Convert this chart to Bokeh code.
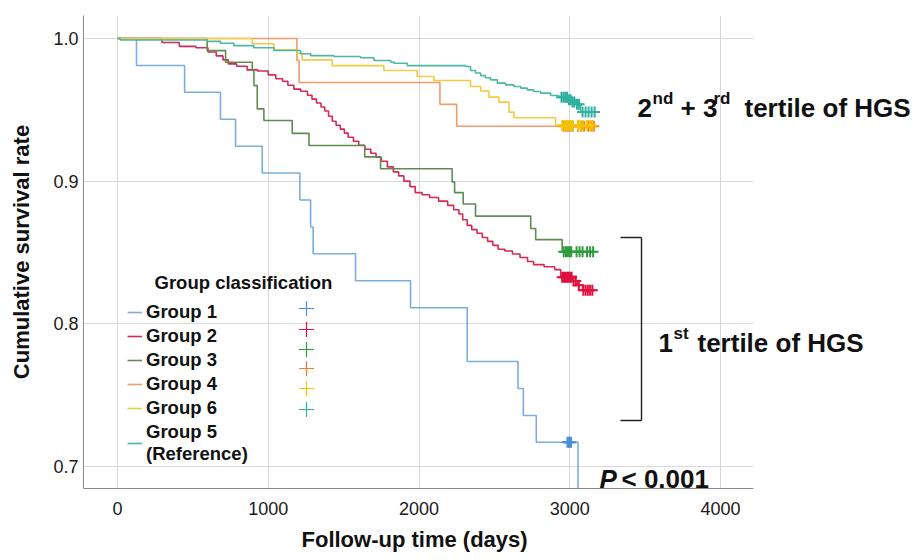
import numpy as np
from bokeh.plotting import figure
from bokeh.models import (Range1d, FixedTicker, NumeralTickFormatter, Legend, LegendItem,
                          Label, Arrow, BoxAnnotation, Title)
from bokeh.embed import file_html
from bokeh.resources import INLINE

# ---------------- data ----------------
x_ticks = [0, 1000, 2000, 3000, 4000]
y_ticks = [0.7, 0.8, 0.9, 1.0]

group_labels = ["Group 1", "Group 2", "Group 3", "Group 4", "Group 6", "Group 5\n(Reference)"]

g1_t = [0, 126, 445, 683, 783, 960, 1210, 1281, 1298, 1579, 1944, 2320, 2657, 2692, 2778, 3055]
g1_s = [1.0, 0.9811, 0.9623, 0.9434, 0.9245, 0.9057, 0.8868, 0.8679, 0.8491, 0.8302, 0.8113,
        0.7736, 0.7547, 0.7358, 0.7170, 0.65]
g1_c = [2985, 2993, 3000, 3008]

g2_t = [0, 296, 410, 520, 600, 655, 700, 735, 790, 860,
        930, 1000, 1050, 1095, 1130, 1170, 1215, 1260, 1290, 1320,
        1350, 1375, 1400, 1425, 1450, 1478, 1505, 1530, 1565, 1600,
        1640, 1680, 1715, 1750, 1790, 1830, 1865, 1900, 1940, 1975,
        2020, 2070, 2130, 2190, 2230, 2265, 2290, 2320, 2350, 2385,
        2420, 2455, 2490, 2525, 2570, 2620, 2670, 2720, 2760, 2830,
        2900, 2940, 3020, 3050, 3085, 3160]
g2_s = [1.0, 0.9972, 0.9945, 0.9935, 0.9905, 0.9878, 0.9850, 0.9822, 0.9806, 0.9780,
        0.9772, 0.9745, 0.9718, 0.9700, 0.9672, 0.9645, 0.9630, 0.9602, 0.9575, 0.9548,
        0.9520, 0.9492, 0.9455, 0.9420, 0.9392, 0.9365, 0.9337, 0.9308, 0.9280, 0.9252,
        0.9224, 0.9196, 0.9168, 0.9140, 0.9100, 0.9065, 0.9037, 0.9000, 0.8962, 0.8920,
        0.8905, 0.8885, 0.8860, 0.8830, 0.8800, 0.8770, 0.8730, 0.8690, 0.8660, 0.8635,
        0.8605, 0.8578, 0.8550, 0.8523, 0.8510, 0.8490, 0.8465, 0.8437, 0.8415, 0.8400,
        0.8380, 0.8327, 0.8300, 0.8270, 0.8235, 0.8235]
g2_c = [2950, 2962, 2972, 2982, 2992, 3002, 3012, 3025, 3040, 3060, 3090, 3105, 3120, 3135, 3150]

g3_t = [0, 595, 717, 894, 905, 927, 971, 1159, 1270, 1640, 1745, 2220, 2236, 2293, 2375,
        2741, 2774, 2950, 3160]
g3_s = [1.0, 0.9915, 0.9834, 0.9776, 0.9670, 0.9507, 0.9425, 0.9335, 0.9250, 0.9170, 0.9087,
        0.8995, 0.8920, 0.8840, 0.8755, 0.8668, 0.8590, 0.8505, 0.8505]
g3_c = [2960, 2975, 2988, 3000, 3010, 3045, 3065, 3085, 3115, 3135, 3155]

g4_t = [0, 1190, 1205, 2139, 2250, 3160]
g4_s = [1.0, 0.9846, 0.9692, 0.9538, 0.9385, 0.9385]
g4_c = [2960, 2975, 2990, 3005, 3020, 3055, 3075, 3095, 3125, 3145, 3160]

g6_t = [0, 894, 1037, 1192, 1225, 1424, 1767, 1988, 2099, 2342, 2409, 2464, 2530, 2597,
        2630, 2906, 3160]
g6_s = [1.0, 0.9963, 0.9920, 0.9897, 0.9850, 0.9810, 0.9776, 0.9734, 0.9706, 0.9664, 0.9632,
        0.9589, 0.9554, 0.9484, 0.9444, 0.9390, 0.9390]
g6_c = [2950, 2965, 2978, 2992, 3005, 3018, 3055, 3070, 3085, 3115, 3135, 3150]

g5_t = [0, 20, 595, 683, 772, 905, 1037, 1214, 1281, 1435,
        1612, 1701, 1812, 1834, 1922, 2309, 2342, 2375, 2409, 2440,
        2475, 2520, 2575, 2630, 2675, 2718, 2760, 2807, 2873, 2928,
        2985, 3010, 3040, 3072, 3172]
g5_s = [1.0, 0.9990, 0.9980, 0.9967, 0.9950, 0.9935, 0.9916, 0.9893, 0.9880, 0.9874,
        0.9865, 0.9846, 0.9835, 0.9827, 0.9810, 0.9804, 0.9776, 0.9758, 0.9740, 0.9725,
        0.9710, 0.9687, 0.9675, 0.9664, 0.9652, 0.9640, 0.9628, 0.9617, 0.9600, 0.9589,
        0.9570, 0.9555, 0.9540, 0.9484, 0.9484]
g5_c = [2945, 2958, 2970, 2982, 2995, 3005, 3018, 3030, 3048, 3062, 3085, 3105, 3125, 3145, 3165]

# ---------------- style / layout ----------------
line_colors = ["#7AAEDC", "#D42A55", "#5E8C50", "#F29A6A", "#F2CB45", "#4CB8A8"]
mark_colors = ["#4A90D9", "#E0103F", "#2E9A3A", "#F08030", "#F5C400", "#30B0A0"]
FONT = "Liberation Sans"

FIG_W, FIG_H = 920, 560
B_LEFT, B_TOP, B_BOTTOM = 83, 15, 72          # frame: x 83..920, y 15..488
XS = 603.0 / 4000.0                            # px per day
YS = 428.0 / 0.3                               # px per survival unit
XR0 = -(117 - B_LEFT) / XS
XR1 = XR0 + (FIG_W - B_LEFT) / XS
YR1 = 1.0 + (38 - B_TOP) / YS
YR0 = YR1 - (FIG_H - B_TOP - B_BOTTOM) / YS
PLOT_RIGHT_PX = 753                            # where grid / x-axis end


def X(px):  # canvas pixel -> data x (annotation placement only)
    return XR0 + (px - B_LEFT) / XS


def Y(py):  # canvas pixel -> data y (annotation placement only)
    return YR1 - (py - B_TOP) / YS


p = figure(width=FIG_W, height=FIG_H, output_backend="svg", toolbar_location=None,
           x_range=Range1d(XR0, XR1), y_range=Range1d(YR0, YR1),
           min_border_left=B_LEFT, min_border_right=0,
           min_border_top=B_TOP, min_border_bottom=B_BOTTOM)
p.outline_line_color = None
p.background_fill_color = "white"
p.border_fill_color = "white"

p.xaxis.ticker = FixedTicker(ticks=x_ticks)
p.yaxis.ticker = FixedTicker(ticks=y_ticks)
p.yaxis.formatter = NumeralTickFormatter(format="0.0")
for ax in (p.xaxis, p.yaxis):
    ax.axis_line_color = "#8a8a8a"
    ax.axis_line_width = 1
    ax.major_tick_line_color = None
    ax.minor_tick_line_color = None
    ax.major_tick_out = 0
    ax.major_tick_in = 0
    ax.minor_tick_out = 0
    ax.minor_tick_in = 0
    ax.major_label_text_font = FONT
    ax.major_label_text_font_size = "18px"
    ax.major_label_text_color = "#1a1a1a"
    ax.axis_label_text_font = FONT
    ax.axis_label_text_font_size = "22px"
    ax.axis_label_text_font_style = "bold"
    ax.axis_label_text_color = "#111111"
p.yaxis.axis_label = "Cumulative survival rate"
p.xaxis.major_label_standoff = 13
p.yaxis.major_label_standoff = 5
p.yaxis.axis_label_standoff = 16
p.xaxis.bounds = (XR0, X(PLOT_RIGHT_PX))

# x-axis title, centred under the plotted area (the frame is wider to hold the side texts)
p.add_layout(Title(text="Follow-up time (days)", align="left", offset=218, standoff=14,
                   text_font=FONT, text_font_size="22px", text_font_style="bold",
                   text_color="#111111"), "below")

p.xgrid.ticker = FixedTicker(ticks=x_ticks)
p.ygrid.ticker = FixedTicker(ticks=y_ticks)
p.grid.grid_line_color = "#d9d9d9"
p.grid.grid_line_width = 1

# white cover: the reference's grid stops at the plot's right edge (text lives beyond it)
p.add_layout(BoxAnnotation(left=X(PLOT_RIGHT_PX), level="underlay", fill_color="white",
                           fill_alpha=1.0, line_alpha=0))

groups = [(g1_t, g1_s, g1_c), (g2_t, g2_s, g2_c), (g3_t, g3_s, g3_c),
          (g4_t, g4_s, g4_c), (g6_t, g6_s, g6_c), (g5_t, g5_s, g5_c)]

line_renderers = []
for (t, s, c), lc in zip(groups, line_colors):
    r = p.step(t, s, mode="after", line_color=lc, line_width=1.6)
    line_renderers.append(r)

for (t, s, c), mc in zip(groups, mark_colors):
    ta = np.asarray(t, dtype=float)
    sa = np.asarray(s, dtype=float)
    idx = np.searchsorted(ta, np.asarray(c, dtype=float), side="right") - 1
    p.scatter(c, sa[idx], marker="cross", size=11, line_color=mc, line_width=2)

# legend: step icons + labels
leg1 = Legend(items=[LegendItem(label=lbl, renderers=[r]) for lbl, r in zip(group_labels, line_renderers)],
              location=(44, 23), orientation="vertical", padding=0, margin=0, spacing=2,
              glyph_width=15, glyph_height=22, label_height=22, label_standoff=4,
              label_text_font=FONT, label_text_font_style="bold", label_text_font_size="18.5px",
              label_text_color="#111111", background_fill_alpha=0, border_line_alpha=0)
p.add_layout(leg1)

# legend key column of censor marks (placed at canvas positions of the reference)
key_x_px = 306
key_y_px = [308, 329, 349, 368, 388, 409]
p.scatter([X(key_x_px)] * len(key_y_px), [Y(v) for v in key_y_px], marker="cross", size=15,
          line_color=mark_colors, line_width=1.2)

# legend title
p.add_layout(Label(x=X(154), y=Y(282), text="Group classification", text_baseline="middle",
                   text_font=FONT, text_font_style="bold", text_font_size="18.5px", text_color="#111111"))


def lab(px, py, txt, size, style="bold"):
    p.add_layout(Label(x=X(px), y=Y(py), text=txt, text_baseline="alphabetic", text_align="left",
                       text_font=FONT, text_font_style=style, text_font_size=size,
                       text_color="#111111"))


# "2nd + 3rd tertile of HGS"
lab(637, 107, "2", "26px")
lab(652, 98, "nd", "17px")
lab(680, 107, "+ 3", "26px")
lab(713, 98, "rd", "17px")
lab(744, 107, "tertile of HGS", "26px")
# "1st tertile of HGS"
lab(658, 342, "1", "26px")
lab(673, 333, "st", "17px")
lab(697, 342, "tertile of HGS", "26px")
# P value
lab(599, 478, "P", "26px", "bold italic")
lab(621, 478, "< 0.001", "26px")

# bracket
for (xa, ya, xb, yb) in [(641, 237, 641, 420), (620, 237, 641, 237), (620, 420, 641, 420)]:
    p.add_layout(Arrow(end=None, x_start=X(xa), y_start=Y(ya), x_end=X(xb), y_end=Y(yb),
                       line_color="#222222", line_width=1.4))

open("out.html", "w").write(file_html(p, INLINE))
